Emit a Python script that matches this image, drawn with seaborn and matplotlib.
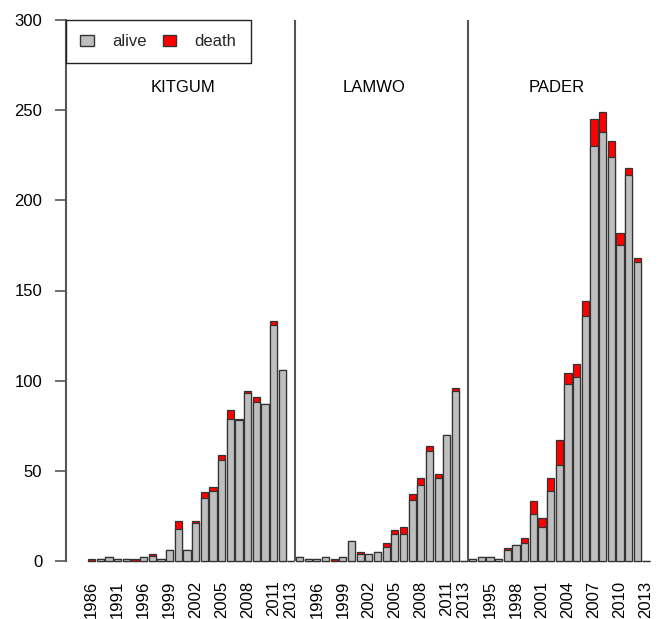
import pandas as pd
import seaborn as sns
import matplotlib.pyplot as plt
from matplotlib.patches import Patch

# Cases per year by district: alive and death counts.
kitgum_years = [1986, 1988, 1990, 1991, 1993, 1995, 1996, 1997, 1998, 1999, 2000, 2001,
                2002, 2003, 2004, 2005, 2006, 2007, 2008, 2009, 2010, 2011, 2012, 2013]
kitgum_alive = [0, 1, 2, 1, 1, 0, 2, 3, 1, 6, 18, 6,
                21, 35, 39, 56, 79, 78, 93, 88, 87, 131, 106, 0]
kitgum_death = [1, 0, 0, 0, 0, 1, 0, 1, 0, 0, 4, 0,
                1, 3, 2, 3, 5, 1, 1, 3, 0, 2, 0, 0]
kitgum_shown = [1986, 1991, 1996, 1999, 2002, 2005, 2008, 2011, 2013]

lamwo_years = list(range(1994, 2014))
lamwo_alive = [2, 1, 1, 2, 0, 2, 11, 4, 4, 5, 8, 15, 15, 34, 42, 61, 46, 70, 94, 0]
lamwo_death = [0, 0, 0, 0, 1, 0, 0, 1, 0, 0, 2, 2, 4, 3, 4, 3, 2, 0, 2, 0]
lamwo_shown = [1996, 1999, 2002, 2005, 2008, 2011, 2013]

pader_years = list(range(1993, 2014))
pader_alive = [1, 2, 2, 1, 6, 9, 10, 26, 19, 39, 53, 98, 102, 136, 230, 238, 224, 175, 214, 166, 0]
pader_death = [0, 0, 0, 0, 1, 0, 3, 7, 5, 7, 14, 6, 7, 8, 15, 11, 9, 7, 4, 2, 0]
pader_shown = [1995, 1998, 2001, 2004, 2007, 2010, 2013]

districts = ["KITGUM", "LAMWO", "PADER"]
years = [kitgum_years, lamwo_years, pader_years]
alive = [kitgum_alive, lamwo_alive, pader_alive]
death = [kitgum_death, lamwo_death, pader_death]
shown = [kitgum_shown, lamwo_shown, pader_shown]

GREY = "#BEBEBE"
RED = "#FF0000"
EDGE = "#333333"
AXIS = "#555555"

if __name__ == "__main__":
    rows = []
    for d, yrs, a, dd, sh in zip(districts, years, alive, death, shown):
        for y, av, de in zip(yrs, a, dd):
            rows.append({"district": d, "year": y, "key": f"{d}-{y}",
                         "alive": av, "death": de, "total": av + de,
                         "label": str(y) if y in sh else None})
    df = pd.DataFrame(rows)

    sns.set_theme(style="white")
    plt.rcParams["font.family"] = ["Liberation Sans", "DejaVu Sans"]

    fig = plt.figure(figsize=(6.65, 6.19), dpi=100)
    ax = fig.add_axes([66 / 665, 58 / 619, 599 / 665, 541 / 619])

    order = list(df["key"])
    sns.barplot(data=df, x="key", y="total", order=order, color=RED, saturation=1,
                width=0.83, edgecolor=EDGE, linewidth=0.9, errorbar=None, ax=ax)
    sns.barplot(data=df, x="key", y="alive", order=order, color=GREY, saturation=1,
                width=0.83, edgecolor=EDGE, linewidth=0.9, errorbar=None, ax=ax)
    # Let empty bars show their baseline edge, as in the original.
    for p in ax.patches:
        p.set_clip_on(False)

    # Group separators.
    n = df.groupby("district", sort=False).size().cumsum().tolist()
    for b in n[:-1]:
        ax.axvline(b - 0.5, color=AXIS, lw=1.5)

    # Group titles.
    for d, xf in zip(districts, [0.195, 0.515, 0.82]):
        ax.text(xf, 0.876, d, transform=ax.transAxes, ha="center", va="center",
                fontsize=12, color="black")

    ax.set_xlim(-2.97, 66.2)
    ax.set_ylim(0, 300)
    ax.set_yticks([0, 50, 100, 150, 200, 250, 300])
    idx = [i for i, l in enumerate(df["label"]) if l is not None]
    ax.set_xticks(idx)
    ax.set_xticklabels([df["label"][i] for i in idx], rotation=90)
    ax.tick_params(axis="x", length=0, pad=14, labelsize=12, colors="black")
    ax.tick_params(axis="y", left=True, length=8, width=1.2, color=AXIS, pad=9,
                   labelsize=12, labelcolor="black")
    ax.set_xlabel("")
    ax.set_ylabel("")
    for s in ["top", "right", "bottom"]:
        ax.spines[s].set_visible(False)
    ax.spines["left"].set_color(AXIS)
    ax.spines["left"].set_linewidth(1.5)
    ax.grid(False)

    handles = [Patch(facecolor=GREY, edgecolor=EDGE, label="alive"),
               Patch(facecolor=RED, edgecolor=EDGE, label="death")]
    leg = ax.legend(handles=handles, ncol=2, loc="upper left", bbox_to_anchor=(0, 1),
                    borderaxespad=0, frameon=True, fancybox=False, fontsize=12,
                    handlelength=0.8, handleheight=0.7, handletextpad=1.1,
                    columnspacing=1.0, borderpad=0.85)
    leg.get_frame().set_edgecolor("#222222")
    leg.get_frame().set_linewidth(1.0)
    leg.get_frame().set_alpha(1)

    fig.savefig("out.png", dpi=100)
